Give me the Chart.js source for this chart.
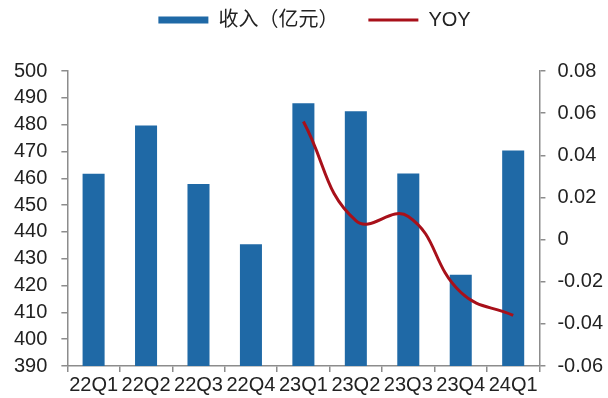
<!DOCTYPE html>
<html>
<head>
<meta charset="utf-8">
<script src="https://cdn.jsdelivr.net/npm/chart.js@4"></script>
<style>
  html, body { margin: 0; padding: 0; background: #ffffff; }
  #wrap { width: 608px; height: 398px; }
</style>
</head>
<body>
<div id="wrap"><canvas id="c" width="608" height="398"></canvas></div>
<script>
// Quarterly revenue (100M CNY) and year-over-year change
const quarters = ['22Q1', '22Q2', '22Q3', '22Q4', '23Q1', '23Q2', '23Q3', '23Q4', '24Q1'];
const revenue = [461.7, 479.7, 457.9, 435.4, 488.0, 485.0, 461.8, 424.0, 470.4];
const yoy = [null, null, null, null, 0.056, 0.009, 0.011, -0.025, -0.036];
const leftTicks = [390, 500, 10];
const rightTicks = [-0.06, 0.08, 0.02];

const axisColor = '#8c8c8c';
const fontFamily = '"Liberation Sans", Arial, "Noto Sans CJK SC", sans-serif';

// Extra room between the legend row and the plot area, and a small nudge right
const legendGap = {
  id: 'legendGap',
  beforeInit(chart) {
    const fit = chart.legend.fit;
    chart.legend.fit = function () {
      fit.call(this);
      this.height += 31;
    };
  },
  afterLayout(chart) {
    chart.legend.left += 7;
    chart.legend.right += 7;
  }
};

new Chart(document.getElementById('c'), {
  data: {
    labels: quarters,
    datasets: [
      {
        type: 'line',
        label: 'YOY',
        data: yoy,
        yAxisID: 'y1',
        borderColor: '#A8101A',
        backgroundColor: '#A8101A',
        borderWidth: 3,
        pointRadius: 0,
        pointStyle: 'line',
        tension: 0.45,
        order: 0
      },
      {
        type: 'bar',
        label: '收入（亿元）',
        data: revenue,
        yAxisID: 'y',
        backgroundColor: '#1F69A6',
        borderWidth: 0,
        pointStyle: 'rect',
        barPercentage: 0.42,
        categoryPercentage: 1.0,
        order: 1
      }
    ]
  },
  plugins: [legendGap],
  options: {
    responsive: false,
    animation: false,
    layout: { padding: { left: 0, right: -7, top: -20, bottom: 0 } },
    plugins: {
      legend: {
        position: 'top',
        reverse: true,
        labels: {
          usePointStyle: true,
          pointStyleWidth: 50,
          boxHeight: 7,
          padding: 30,
          color: '#222',
          font: { family: fontFamily, size: 20 }
        }
      },
      tooltip: { enabled: false }
    },
    scales: {
      x: {
        grid: { display: true, drawOnChartArea: false, offset: true, color: axisColor, tickLength: 6, lineWidth: 1.5 },
        border: { color: axisColor, width: 1.5 },
        ticks: {
          color: '#222',
          autoSkip: false,
          maxRotation: 0,
          minRotation: 0,
          padding: 1,
          font: { family: fontFamily, size: 20 }
        }
      },
      y: {
        position: 'left',
        min: leftTicks[0],
        max: leftTicks[1],
        grid: { drawOnChartArea: false, color: axisColor, tickLength: 6, lineWidth: 1.5 },
        border: { color: axisColor, width: 1.5 },
        ticks: {
          stepSize: leftTicks[2],
          autoSkip: false,
          color: '#222',
          padding: 14,
          font: { family: fontFamily, size: 20 }
        }
      },
      y1: {
        position: 'right',
        min: rightTicks[0],
        max: rightTicks[1],
        grid: { drawOnChartArea: false, color: axisColor, tickLength: 6, lineWidth: 1.5 },
        border: { color: axisColor, width: 1.5 },
        ticks: {
          stepSize: rightTicks[2],
          autoSkip: false,
          color: '#222',
          padding: 12,
          font: { family: fontFamily, size: 20 },
          callback: v => String(parseFloat(Number(v).toFixed(2)))
        }
      }
    }
  }
});
</script>
</body>
</html>
